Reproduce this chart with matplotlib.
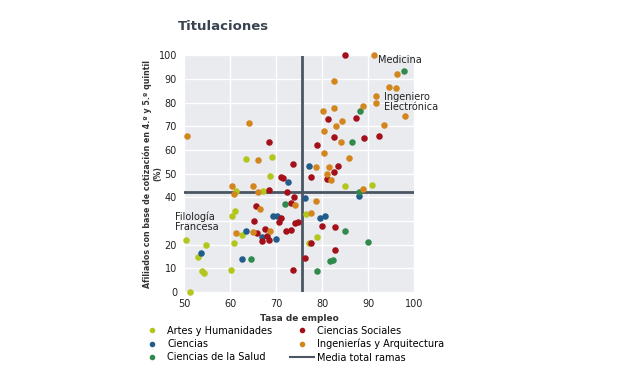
import numpy as np
import matplotlib.pyplot as plt
from matplotlib.lines import Line2D

# datos: (tasa de empleo, % afiliados 4º-5º quintil)
artes = [(63.5,56.4),(69.1,57.2),(68.6,48.9),(61.4,42.9),(67.1,42.9),(60.4,32.3),(61.1,34.2),
         (62.7,24.0),(60.9,20.6),(50.4,22.0),(54.8,19.7),(53.1,15.0),(54.0,8.9),(54.3,7.9),
         (60.2,9.3),(51.3,0.1),(84.9,45.0),(90.8,45.2),(76.6,32.9),(79.0,23.1),(77.1,20.9)]
ciencias = [(77.2,53.4),(72.6,46.4),(76.2,39.6),(88.1,40.7),(69.3,32.0),(70.3,32.0),(79.6,31.3),
            (80.7,32.2),(63.4,25.8),(67.0,23.1),(69.9,22.6),(53.8,16.3),(62.7,14.0)]
salud = [(97.9,93.3),(88.2,76.5),(86.6,63.6),(88.0,42.3),(72.0,37.3),(85.0,26.0),(90.1,21.3),
         (64.6,13.8),(81.8,13.1),(82.3,13.7),(79.0,9.0)]
sociales = [(84.9,100.0),(68.4,63.4),(73.6,54.3),(81.2,73.0),(87.4,73.6),(82.5,65.4),(89.1,65.3),
            (92.4,66.1),(79.0,62.2),(83.5,53.4),(82.7,50.8),(71.0,48.6),(71.6,48.4),(77.5,48.6),
            (81.1,47.9),(68.4,43.2),(72.4,42.4),(73.9,40.1),(65.6,36.3),(73.3,37.5),(65.2,30.0),
            (70.7,29.8),(71.1,31.2),(74.1,29.1),(74.8,29.4),(80.0,27.7),(82.8,27.6),(67.6,26.6),
            (72.1,25.8),(73.3,26.3),(65.8,25.1),(68.1,23.6),(66.9,21.6),(68.4,22.0),(77.7,20.9),
            (82.8,17.8),(76.3,14.4),(73.7,9.3)]
ingenierias = [(50.6,66.1),(64.1,71.6),(66.0,56.0),(91.4,100.0),(96.2,92.1),(82.6,89.4),(94.6,86.6),
               (96.1,86.1),(91.7,82.7),(91.7,79.8),(98.1,74.5),(88.9,78.5),(80.2,76.4),(82.7,78.0),
               (84.3,72.2),(83.0,70.1),(80.5,68.2),(93.5,70.7),(84.1,63.5),(80.4,58.6),(85.9,56.5),
               (78.7,52.9),(81.6,53.0),(81.0,50.0),(82.0,47.4),(89.0,43.4),(60.5,45.0),(60.9,41.3),
               (65.0,45.0),(66.1,42.3),(74.1,36.6),(78.8,38.6),(66.5,35.0),(77.5,33.4),(61.3,25.0),
               (64.9,25.3),(68.7,26.0)]
media_x, media_y = 75.6, 42.3

ramas = ["Artes y Humanidades", "Ciencias", "Ciencias de la Salud",
         "Ciencias Sociales", "Ingenierías y Arquitectura"]
series = [artes, ciencias, salud, sociales, ingenierias]
colores = ["#b3c61c", "#215c8a", "#2f8a4c", "#a3101a", "#d4861e"]
gris = "#4b5662"

# la etiqueta 30 queda tapada por "Filología Francesa" en el original
yticks = np.arange(0, 101, 10)
ylabels = ["" if v == 30 else str(v) for v in yticks]

fig = plt.figure(figsize=(6.2, 3.68), dpi=100)
ax = fig.add_axes([184/620, 1-292/368, 230/620, 236.5/368])
ax.set_facecolor("#e9ebee")
for s in ax.spines.values():
    s.set_visible(False)
ax.set_xlim(50, 100)
ax.set_ylim(0, 100)
ax.set_xticks(np.arange(50, 101, 10))
ax.set_yticks(yticks, ylabels)
ax.grid(color="white", lw=1)
ax.set_axisbelow(True)
ax.tick_params(length=0, labelsize=7, colors="#222222", pad=5)

handles = []
for nombre, datos, c in zip(ramas, series, colores):
    d = np.array(datos)
    ax.scatter(d[:, 0], d[:, 1], s=22, color=c, zorder=3, linewidths=0, clip_on=False)
    handles.append(Line2D([], [], ls="none", marker="o", ms=3, color=c, label=nombre))

ax.axvline(media_x, color=gris, lw=2, zorder=2)
ax.axhline(media_y, color=gris, lw=2, zorder=2)
handles.append(Line2D([], [], color=gris, lw=1.5, label="Media total ramas"))

ax.text(92.2, 97.9, "Medicina", fontsize=7, va="center", ha="left", color="#222222")
ax.text(93.4, 80.2, "Ingeniero\nElectrónica", fontsize=7, va="center", ha="left",
        color="#222222", linespacing=1.0)
ax.text(48.0, 29.8, "Filología\nFrancesa", fontsize=7, va="center", ha="left",
        color="#222222", linespacing=1.0, clip_on=False)

ax.set_xlabel("Tasa de empleo", fontsize=6.5, fontweight="bold", color="#333333", labelpad=3.5)
ax.set_ylabel("Afiliados con base de cotización en 4.º y 5.º quintil\n(%)", fontsize=5.7,
              fontweight="bold", color="#333333", labelpad=-3, linespacing=1.2)

fig.text(178/620, 1-26/368, "Titulaciones", fontsize=9.5, fontweight="bold",
         color="#3a4450", va="center", ha="left")

fig.legend(handles=handles, ncol=2, loc="upper left", bbox_to_anchor=(140/620, 1-325.5/368),
           frameon=False, fontsize=7, handlelength=2.5, handletextpad=0.3,
           columnspacing=1.8, labelspacing=0.35, borderaxespad=0, borderpad=0)

fig.savefig("out.png", dpi=100, facecolor="white")
